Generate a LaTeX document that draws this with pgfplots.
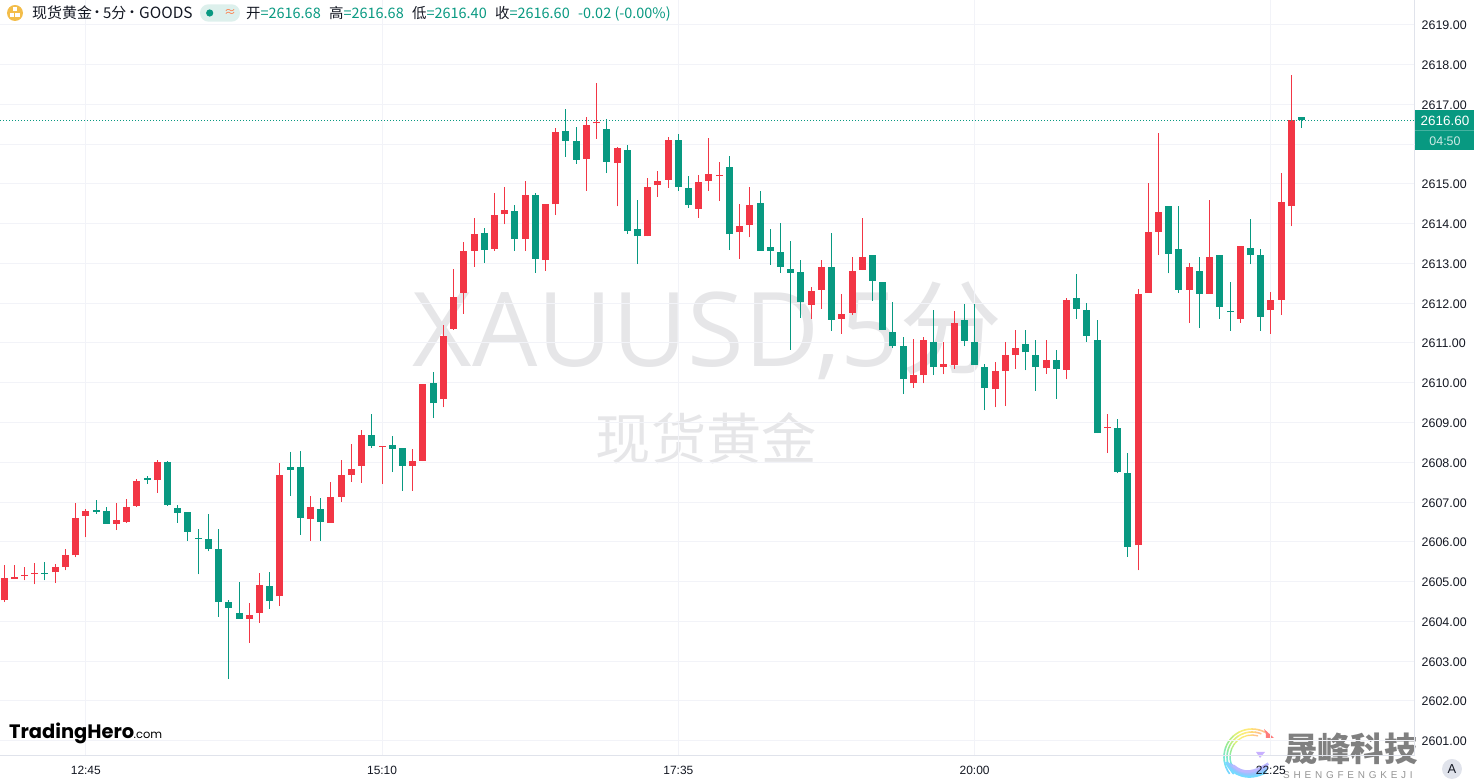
\documentclass[border=0pt]{standalone}
\usepackage{fontspec}
\usepackage{pgfplots}
\usepackage{pgfplotstable}
\pgfplotsset{compat=1.18}
\setmainfont{Liberation Sans}
\newfontfamily\cjk{Noto Sans CJK SC}
\newfontfamily\logofont{Poppins}
\newfontfamily\wmfont{Open Sans}

\definecolor{upred}{HTML}{F23645}
\definecolor{downgreen}{HTML}{089981}
\definecolor{gridc}{HTML}{F2F3F8}
\definecolor{axisc}{HTML}{E0E3EB}
\definecolor{textc}{HTML}{131722}
\definecolor{wmc}{HTML}{E6E6E8}
\definecolor{logored}{HTML}{FF7B7B}
\definecolor{goldc}{HTML}{F3BD4A}
\definecolor{pillc}{HTML}{DDF0EC}
\definecolor{orangec}{HTML}{FF7A45}
\definecolor{lilac}{HTML}{C8B0FF}

% i open high low close
\pgfplotstableread{
i o h l c
0 2604.53 2605.41 2604.48 2605.09
1 2605.06 2605.41 2605.06 2605.11
2 2605.14 2605.36 2605.03 2605.16
3 2605.19 2605.46 2604.93 2605.21
4 2605.21 2605.49 2605.03 2605.19
5 2605.23 2605.44 2604.96 2605.36
6 2605.36 2605.83 2605.28 2605.66
7 2605.66 2606.98 2605.61 2606.60
8 2606.65 2606.83 2606.11 2606.78
9 2606.81 2607.06 2606.71 2606.76
10 2606.78 2606.88 2606.45 2606.45
11 2606.45 2606.98 2606.29 2606.55
12 2606.50 2607.08 2606.48 2606.88
13 2606.91 2607.58 2606.88 2607.53
14 2607.61 2607.66 2607.46 2607.56
15 2607.56 2608.06 2607.23 2608.01
16 2608.01 2608.03 2606.91 2606.93
17 2606.85 2606.93 2606.48 2606.73
18 2606.75 2606.75 2606.03 2606.25
19 2606.08 2606.33 2605.18 2606.07
20 2606.06 2606.71 2605.76 2605.81
21 2605.81 2606.33 2604.11 2604.48
22 2604.48 2604.53 2602.55 2604.33
23 2604.21 2604.98 2604.06 2604.06
24 2604.06 2604.46 2603.46 2604.16
25 2604.21 2605.21 2603.96 2604.91
26 2604.88 2605.23 2604.31 2604.51
27 2604.63 2607.98 2604.38 2607.68
28 2607.88 2608.26 2607.16 2607.81
29 2607.88 2608.28 2606.18 2606.60
30 2606.58 2607.16 2606.03 2606.88
31 2606.83 2607.11 2606.03 2606.50
32 2606.48 2607.51 2606.48 2607.13
33 2607.13 2608.06 2607.01 2607.68
34 2607.68 2608.46 2607.51 2607.83
35 2607.91 2608.81 2607.48 2608.68
36 2608.68 2609.21 2608.36 2608.41
37 2608.39 2608.41 2607.45 2608.41
38 2608.43 2608.66 2607.75 2608.33
39 2608.36 2608.36 2607.28 2607.91
40 2607.91 2608.33 2607.28 2608.03
41 2608.03 2609.96 2608.03 2609.96
42 2609.98 2610.26 2609.11 2609.48
43 2609.58 2611.44 2609.38 2611.18
44 2611.36 2612.86 2611.33 2612.16
45 2612.26 2613.53 2611.73 2613.31
46 2613.31 2614.13 2612.91 2613.74
47 2613.76 2613.88 2613.01 2613.33
48 2613.36 2614.76 2613.31 2614.21
49 2614.23 2614.93 2613.98 2614.33
50 2614.31 2614.46 2613.31 2613.61
51 2613.61 2615.08 2613.31 2614.71
52 2614.71 2614.78 2612.76 2613.11
53 2613.08 2614.48 2612.81 2614.48
54 2614.48 2616.41 2614.21 2616.31
55 2616.33 2616.88 2615.68 2616.08
56 2616.08 2616.43 2615.50 2615.60
57 2615.63 2616.68 2614.83 2616.48
58 2616.52 2617.54 2616.13 2616.54
59 2616.38 2616.63 2615.27 2615.55
60 2615.52 2615.92 2614.43 2615.90
61 2615.85 2615.98 2613.74 2613.81
62 2613.86 2614.60 2612.98 2613.68
63 2613.68 2615.15 2613.68 2614.93
64 2614.96 2615.32 2614.68 2615.08
65 2615.10 2616.18 2614.90 2616.10
66 2616.10 2616.26 2614.83 2614.93
67 2614.90 2615.20 2614.39 2614.47
68 2614.37 2615.22 2614.15 2615.05
69 2615.08 2616.15 2614.83 2615.25
70 2615.19 2615.55 2614.57 2615.21
71 2615.43 2615.71 2613.33 2613.73
72 2613.78 2614.48 2613.11 2613.93
73 2613.96 2614.93 2613.65 2614.46
74 2614.51 2614.81 2613.32 2613.32
75 2613.40 2613.86 2612.96 2613.32
76 2613.29 2614.01 2612.76 2612.91
77 2612.86 2613.55 2610.83 2612.76
78 2612.78 2613.08 2611.63 2612.03
79 2611.96 2612.41 2611.61 2612.31
80 2612.33 2613.08 2611.86 2612.91
81 2612.91 2613.76 2611.31 2611.58
82 2611.61 2612.23 2611.23 2611.73
83 2611.76 2613.16 2611.71 2612.81
84 2612.83 2614.13 2612.83 2613.16
85 2613.21 2613.21 2612.06 2612.56
86 2612.53 2612.53 2611.33 2611.33
87 2611.28 2612.03 2610.88 2610.91
88 2610.93 2611.16 2609.71 2610.09
89 2609.98 2611.11 2609.86 2610.19
90 2610.19 2611.16 2609.98 2611.08
91 2611.03 2611.83 2610.19 2610.39
92 2610.39 2611.03 2610.21 2610.47
93 2610.44 2611.81 2610.34 2611.51
94 2611.58 2611.98 2610.91 2611.06
95 2611.03 2611.98 2610.44 2610.44
96 2610.39 2610.47 2609.31 2609.86
97 2609.83 2610.52 2609.38 2610.29
98 2610.29 2611.03 2609.41 2610.69
99 2610.69 2611.33 2610.34 2610.88
100 2610.96 2611.33 2610.31 2610.76
101 2610.69 2611.08 2609.80 2610.39
102 2610.36 2611.08 2610.23 2610.56
103 2610.56 2610.83 2609.60 2610.34
104 2610.32 2612.13 2610.08 2612.08
105 2612.13 2612.74 2611.61 2611.86
106 2611.83 2612.01 2611.03 2611.18
107 2611.08 2611.58 2608.73 2608.73
108 2608.86 2609.21 2608.23 2608.88
109 2608.86 2609.08 2607.72 2607.75
110 2607.73 2608.23 2605.63 2605.88
111 2605.91 2612.36 2605.28 2612.23
112 2612.26 2615.01 2612.26 2613.80
113 2613.79 2616.28 2613.21 2614.29
114 2614.43 2614.43 2612.75 2613.24
115 2613.37 2614.43 2612.26 2612.34
116 2612.34 2613.01 2611.51 2612.91
117 2612.81 2613.16 2611.38 2612.23
118 2612.23 2614.58 2612.23 2613.16
119 2613.21 2613.21 2611.61 2611.91
120 2611.79 2612.54 2611.31 2611.77
121 2611.61 2613.44 2611.51 2613.44
122 2613.39 2614.11 2612.98 2613.21
123 2613.21 2613.36 2611.31 2611.66
124 2611.83 2612.28 2611.23 2612.08
125 2612.08 2615.26 2611.70 2614.53
126 2614.43 2617.74 2613.93 2616.61
127 2616.68 2616.68 2616.40 2616.60
}\candledata

% one colour: wicks first, then bodies; #2 is the test that picks the candles
\newcommand{\candleplots}[2]{%
  \addplot[draw=none,forget plot,error bars/.cd,y dir=plus,y explicit,error mark=none,
    error bar style={#1,line width=1bp}]
    table[x expr={(#2)?\thisrow{i}:nan},y=l,y error expr={\thisrow{h}-\thisrow{l}}] {\candledata};
  \addplot[draw=none,forget plot,error bars/.cd,y dir=plus,y explicit,error mark=none,
    error bar style={#1,line width=7bp}]
    table[x expr={(#2)?\thisrow{i}:nan},y expr={min(\thisrow{o},\thisrow{c})},
      y error expr={max(abs(\thisrow{c}-\thisrow{o}),0.03)}] {\candledata};
}

\begin{document}
\begin{tikzpicture}
\useasboundingbox (0,0) rectangle (1474bp,780bp);
% behind the axis: watermarks
\begin{scope}[x=1bp,y=-1bp,yshift=780bp]
  \node[wmc,anchor=center,inner sep=0] at (707.5,331) {\fontsize{103.5}{110}\selectfont\wmfont XAUUSD,5\cjk 分};
  \node[wmc,anchor=center,inner sep=0] at (706.5,438) {\fontsize{55.5}{60}\selectfont\cjk 现货黄金};
  % swirl logo, bottom right
  \foreach \a/\c in {62/FFC48A,76/FFD77A,90/FFE97A,104/F6F07A,118/DDF07A,132/BCEE84,146/9AEB94,160/86E8B4,174/78E6D2,188/74E0F0,202/74D6FF}{
    \definecolor{tmpc}{HTML}{\c}
    \foreach \r/\w in {28/1.6,25/1.6,22/1.4}{
      \draw[line width=\w,tmpc] ({1252+\r*cos(\a+(28-\r)*2)},{757-\r*sin(\a+(28-\r)*2)}) arc[start angle=-\a-(28-\r)*2,end angle=-\a-(28-\r)*2-15,radius=\r];
    }
  }
  \fill[logored] (1264,729) -- (1274,738) -- (1266,738) .. controls (1266,734) .. (1264,729);
  \foreach \d/\c in {0/74DCFF,3/84D0FF,6/94C6FF,9/A8BEFF,12/BCB8FF}{
    \definecolor{tmpc}{HTML}{\c}
    \draw[line width=2.6,tmpc] ({1226+\d*0.6},{762+\d*0.3}) .. controls ({1232+\d},{776-\d*0.1}) and ({1250+\d*0.3},{781-\d*0.7}) .. ({1266+\d*0.2},{772-\d*0.7});
  }
  \fill[lilac] (1265,752) -- (1256,752) -- (1260,758) -- cycle;
  \node[anchor=west,inner sep=0,color=black!50] at (1284,749) {\fontsize{33.5}{36}\selectfont\cjk\bfseries 晟峰科技};
  \node[anchor=west,inner sep=0,color=black!42] at (1283,775) {\fontsize{10}{12}\selectfont\addfontfeature{LetterSpace=38}SHENGFENGKEJI};
\end{scope}
\begin{axis}[
  at={(0,25bp)},anchor=south west,
  scale only axis,width=1414.5bp,height=755bp,
  xmin=-0.40,xmax=138.06,ymin=2600.64,ymax=2619.62,
  axis y line*=right,axis x line*=bottom,
  axis line style={axisc,-},
  major tick length=0pt,
  grid=major,grid style={gridc,line width=0.9bp},
  xtick={8,37,66,95,124},
  xticklabels={12:45,15:10,17:35,20:00,22:25},
  % 2616.00 sits under the price tag: its grid line stays, its label goes
  ytick={2601,2602,2603,2604,2605,2606,2607,2608,2609,2610,2611,2612,2613,2614,2615,2617,2618,2619},
  extra y ticks={2616},extra y tick labels={},
  /pgf/number format/assume math mode=true,
  yticklabel style={/pgf/number format/fixed,/pgf/number format/fixed zerofill,
    /pgf/number format/precision=2,/pgf/number format/1000 sep={},
    font=\fontsize{12.5}{14}\selectfont,color=textc},
  xticklabel style={font=\fontsize{12}{14}\selectfont,color=textc},
  tick label style={inner sep=0pt},
  y tick label style={xshift=7bp,yshift=-0.8bp},
  x tick label style={yshift=-11bp},
]
\candleplots{upred}{\thisrow{c}>\thisrow{o}}
\candleplots{downgreen}{\thisrow{c}<=\thisrow{o}}
% last price line
\addplot[downgreen,line width=0.8bp,dash pattern=on 1bp off 2bp,forget plot] coordinates {(-0.40,2616.60) (138.06,2616.60)};
\end{axis}
% on top: header, logo, price tag
\begin{scope}[x=1bp,y=-1bp,yshift=780bp]
  % price tag
  \fill[downgreen] (1415,110.5) rectangle (1474,150.5);
  \draw[white,opacity=.25,line width=.7bp] (1415,130.5) -- (1474,130.5);
  \node[white,inner sep=0] at (1445,121) {\fontsize{13.5}{14}\selectfont 2616.60};
  \node[white,opacity=.8,inner sep=0] at (1445,141) {\fontsize{12.5}{14}\selectfont 04:50};
  \fill[axisc] (1452,769) circle (10);
  \node[textc,inner sep=0] at (1452,769) {\fontsize{13}{14}\selectfont A};
  % header
  \fill[goldc] (15,13) circle (8);
  \fill[white] (12.5,7.5) rectangle (17,11.3);
  \fill[white] (10,12.6) rectangle (14.3,16.6);
  \fill[white] (15.2,12.6) rectangle (19.6,16.6);
  \node[anchor=base west,inner sep=0,textc] at (32,19) {\fontsize{15}{16}\selectfont\cjk 现货黄金};
  \node[inner sep=0,textc] at (97,14) {\fontsize{14}{16}\selectfont\cjk ·};
  \node[anchor=base west,inner sep=0,textc] at (103,19) {\fontsize{15}{16}\selectfont\cjk 5分};
  \node[inner sep=0,textc] at (132,14) {\fontsize{14}{16}\selectfont\cjk ·};
  \node[anchor=base west,inner sep=0,textc] at (139,19) {\fontsize{15.5}{16}\selectfont\cjk GOODS};
  \fill[pillc,rounded corners=8.5] (200,4.3) rectangle (240,21.7);
  \fill[downgreen] (209.7,13) circle (3.6);
  \node[inner sep=0,orangec] at (230,12.5) {\fontsize{12}{14}\selectfont\cjk ≈};
  \foreach \x/\k/\v in {246/开/2616.68,329/高/2616.68,412/低/2616.40,495/收/2616.60}{
    \node[anchor=base west,inner sep=0] at (\x,19) {\fontsize{14.5}{16}\selectfont\cjk\textcolor{textc}{\k}\textcolor{downgreen}{=\v}};
  }
  \node[anchor=base west,inner sep=0,downgreen] at (578,19) {\fontsize{14.5}{16}\selectfont\cjk -0.02 (-0.00\%)};
  % TradingHero logo
  \node[anchor=base west,inner sep=0,black] at (9,739) {\fontsize{19.5}{24}\selectfont\logofont\bfseries TradingHero};
  \node[anchor=base west,inner sep=0,black] at (133.5,739) {\fontsize{11.5}{14}\selectfont\logofont .com};
\end{scope}
\end{tikzpicture}
\end{document}
